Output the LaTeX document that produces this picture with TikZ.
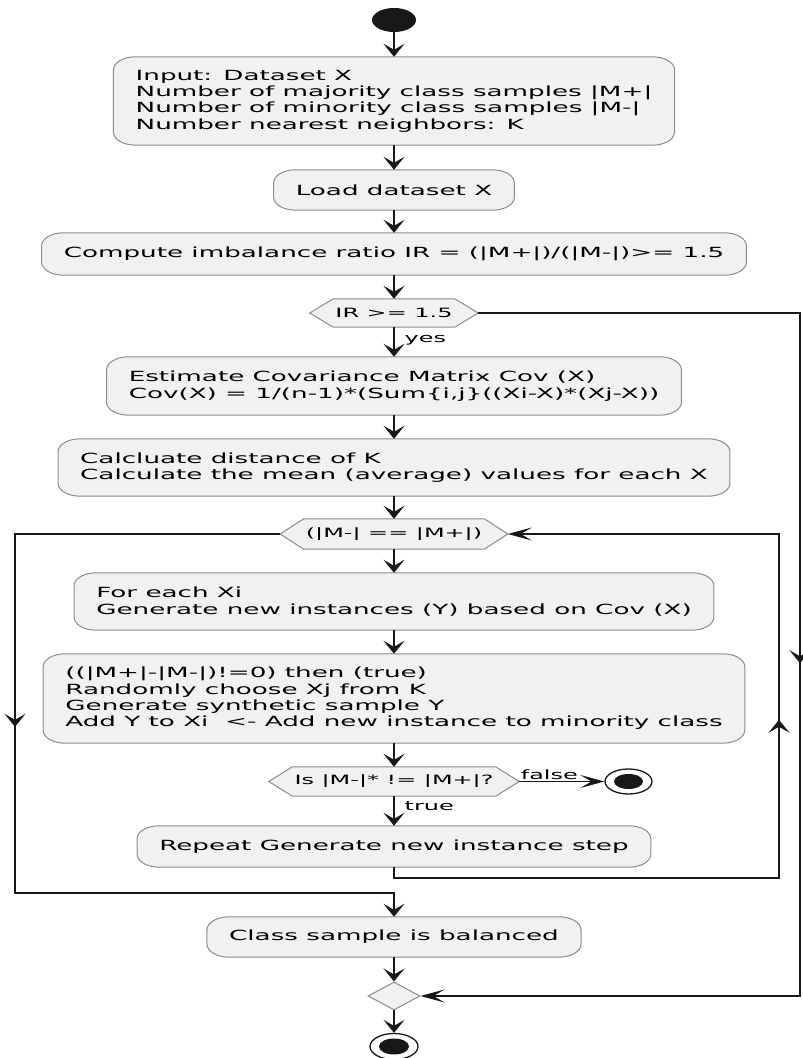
\documentclass[tikz,border=0pt]{standalone}
\usepackage{fontspec}
\setmainfont{DejaVu Sans}[FakeStretch=1.87]
\usetikzlibrary{arrows.meta,shapes.geometric,calc,backgrounds,decorations.markings}

\definecolor{boxfill}{HTML}{F1F1F1}
\definecolor{boxline}{HTML}{8C8C8C}
\definecolor{ink}{HTML}{181818}

\tikzset{
  actfont/.style={font=\fontsize{14pt}{16.3pt}\selectfont},
  labfont/.style={font=\fontsize{12.8pt}{15pt}\selectfont},
  activity/.style={actfont, align=left, inner xsep=22pt, inner ysep=2pt},
  decision/.style={labfont, inner xsep=25.5pt, inner ysep=0pt},
  lab/.style={labfont, inner sep=0pt},
  shell/.style={fill=boxfill, draw=boxline, line width=1pt},
  conn/.style={draw=ink, line width=1.4pt},
  vtip/.tip={Stealth[length=13pt,width=21pt,inset=6pt]},
  htip/.tip={Stealth[length=24pt,width=13pt,inset=11pt]},
  vflow/.style={conn, -vtip},
  hflow/.style={conn, -htip},
  midv/.style={postaction={decorate},
    decoration={markings, mark=at position #1 with {\arrow{vtip}}}},
}

% rounded activity frame with elliptical corners
\newcommand\roundshell[1]{%
  \path[shell] let \p1=(#1.south west), \p2=(#1.north east) in
    (\x1+22pt,\y1) -- (\x2-22pt,\y1)
    arc[start angle=-90, end angle=0, x radius=22pt, y radius=13pt]
    -- (\x2,\y2-13pt)
    arc[start angle=0, end angle=90, x radius=22pt, y radius=13pt]
    -- (\x1+22pt,\y2)
    arc[start angle=90, end angle=180, x radius=22pt, y radius=13pt]
    -- (\x1,\y1+13pt)
    arc[start angle=180, end angle=270, x radius=22pt, y radius=13pt]
    -- cycle;}

% hexagonal decision frame
\newcommand\hexshell[1]{%
  \path[shell] let \p1=(#1.west), \p2=(#1.east), \p3=(#1.north), \p4=(#1.south) in
    (\p1) -- (\x1+23.5pt,\y3) -- (\x2-23.5pt,\y3) -- (\p2)
    -- (\x2-23.5pt,\y4) -- (\x1+23.5pt,\y4) -- cycle;}

\begin{document}
\begin{tikzpicture}[x=1pt, y=1pt]
\useasboundingbox (0,0) rectangle (803,1058);

% start
\node[ellipse, fill=ink, minimum width=44pt, minimum height=24pt, inner sep=0pt] (start) at (394,1038) {};

% activities and decisions
\node[activity, minimum height=88pt] (input) at (394,957)
  {Input: Dataset X\\Number of majority class samples |M+|\\Number of minority class samples |M-|\\Number nearest neighbors: K};
\node[activity, minimum height=40pt] (load) at (394,868) {Load dataset X};
\node[activity, minimum height=42pt] (compute) at (394,804) {Compute imbalance ratio IR = (|M+|)/(|M-|)>= 1.5};
\node[decision, minimum height=28pt] (irhex) at (394,745) {IR >= 1.5};
\node[activity, minimum height=58pt] (estimate) at (394,672)
  {Estimate Covariance Matrix Cov (X)\\Cov(X) = 1/(n-1)*(Sum\{i,j\}((Xi-X)*(Xj-X))};
\node[activity, minimum height=57pt] (calc) at (394,590.5)
  {Calcluate distance of K\\Calculate the mean (average) values for each X};
\node[decision, minimum height=30pt] (loophex) at (394,524) {(|M-| == |M+|)};
\node[activity, minimum height=57pt] (foreach) at (394,456.5)
  {For each Xi\\Generate new instances (Y) based on Cov (X)};
\node[activity, minimum height=89pt] (cond) at (394,359.5)
  {((|M+|-|M-|)!=0) then (true)\\Randomly choose Xj from K\\Generate synthetic sample Y\\Add Y to Xi~~<- Add new instance to minority class};
\node[decision, minimum height=29pt] (ishex) at (394,276.5) {Is |M-|* != |M+|?};
\node[activity, minimum height=41pt] (again) at (394,211.5) {Repeat Generate new instance step};
\node[activity, minimum height=40pt] (balanced) at (394,121) {Class sample is balanced};
\node[diamond, shell, minimum width=52pt, minimum height=28pt, inner sep=0pt] (merge) at (394,62) {};

% stops
\node[ellipse, draw=ink, line width=1.3pt, fill=white, minimum width=47pt, minimum height=25pt, inner sep=0pt] (stopfalse) at (628.5,276.5) {};
\node[ellipse, fill=ink, minimum width=29pt, minimum height=15pt, inner sep=0pt] (stopfalsedot) at (stopfalse) {};
\node[ellipse, draw=ink, line width=1.3pt, fill=white, minimum width=48pt, minimum height=26pt, inner sep=0pt] (stop) at (394,11.5) {};
\node[ellipse, fill=ink, minimum width=30pt, minimum height=16pt, inner sep=0pt] (stopdot) at (stop) {};

% frames behind the texts
\begin{scope}[on background layer]
  \fill[white] (0,0) rectangle (803,1058);
  \roundshell{input}
  \roundshell{load}
  \roundshell{compute}
  \hexshell{irhex}
  \roundshell{estimate}
  \roundshell{calc}
  \hexshell{loophex}
  \roundshell{foreach}
  \roundshell{cond}
  \hexshell{ishex}
  \roundshell{again}
  \roundshell{balanced}
\end{scope}

% route corners
\coordinate (rloopB) at (779,180);
\coordinate (rloopT) at (779,524);
\coordinate (lloop) at (15,165);
\coordinate (rbig) at (800,62);

% main flow
\draw[vflow] (start.south) -- (input.north);
\draw[vflow] (input.south) -- (load.north);
\draw[vflow] (load.south) -- (compute.north);
\draw[vflow] (compute.south) -- (irhex.north);
\draw[vflow] (irhex.south) -- node[lab, at start, anchor=base west, xshift=10pt, yshift=-15pt] (yeslab) {yes} (estimate.north);
\draw[vflow] (estimate.south) -- (calc.north);
\draw[vflow] (calc.south) -- (loophex.north);
\draw[vflow] (loophex.south) -- (foreach.north);
\draw[vflow] (foreach.south) -- (cond.north);
\draw[vflow] (cond.south) -- (ishex.north);
\draw[hflow] (ishex.east) -- node[lab, at start, anchor=base west, xshift=1pt, yshift=1.5pt] (falselab) {false} (stopfalse.west);
\draw[vflow] (ishex.south) -- node[lab, at start, anchor=base west, xshift=10pt, yshift=-14pt] (truelab) {true} (again.north);

% loop back to the test
\draw[hflow, midv=554pt] (again.south) |- (rloopB) -- (rloopT) -- (loophex.east);
% loop exit
\draw[vflow, midv=458pt] (loophex.west) -| (lloop) -| (balanced.north);
% ratio below threshold
\draw[hflow, midv=672pt] (irhex.east) -| (rbig) -- (merge.east);

\draw[vflow] (balanced.south) -- (merge.north);
\draw[vflow] (merge.south) -- (stop.north);
\end{tikzpicture}
\end{document}
